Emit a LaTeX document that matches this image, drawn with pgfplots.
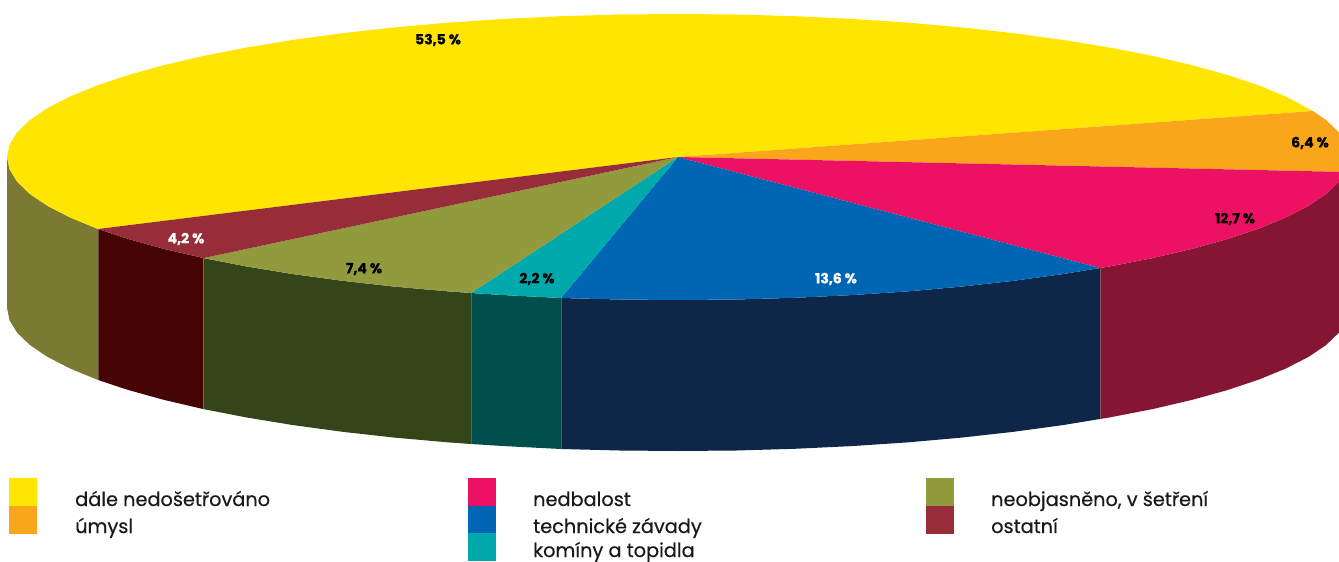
\documentclass[border=0pt]{standalone}
\usepackage{fontspec}
\setmainfont{Poppins}
\newfontfamily\legfont[FakeBold=0.5]{Poppins}
\newfontfamily\lblfont[FakeBold=0.8]{Poppins}
\usepackage{pgfplots}
\pgfplotsset{compat=1.18}

\definecolor{cyellow}{HTML}{FFE500}
\definecolor{corange}{HTML}{FAA61A}
\definecolor{cpink}{HTML}{ED1164}
\definecolor{cblue}{HTML}{0066B3}
\definecolor{cteal}{HTML}{00A9AC}
\definecolor{colive}{HTML}{919A3D}
\definecolor{cred}{HTML}{962D38}
\definecolor{wyellow}{HTML}{7A7A32}
\definecolor{wpink}{HTML}{841633}
\definecolor{wblue}{HTML}{0E2648}
\definecolor{wteal}{HTML}{004F4C}
\definecolor{wolive}{HTML}{344519}
\definecolor{wred}{HTML}{470404}

\newcommand{\lbl}{\fontsize{14}{14}\lblfont\bfseries}
\newcommand{\leg}{\fontsize{19.3}{19.3}\legfont}

\begin{document}
\begin{tikzpicture}
\useasboundingbox (0,0) rectangle (1339pt,562pt);
\begin{axis}[
    at={(0,0)}, anchor=south west,
    scale only axis,
    width=1339pt, height=562pt,
    xmin=0, xmax=1339,
    ymin=0, ymax=562,
    y dir=reverse,
    hide axis,
]
% side walls
\addplot[fill=wyellow, draw=none] coordinates {(98,229)(69.9,217.4)(47.5,205.9)(29.9,194)(17.2,181.8)(9.6,169.5)(7,157)(7,308)(9.6,320.5)(17.2,332.8)(29.9,345)(47.5,356.9)(69.9,368.4)(98,380)} --cycle;
\addplot[fill=wred, draw=none] coordinates {(203.5,258.1)(164,248.9)(128.3,239)(98,229)(98,380)(128.3,390)(164,399.9)(203.5,409.1)} --cycle;
\addplot[fill=wolive, draw=none] coordinates {(471,293)(448.5,291.4)(394.4,286.6)(342.5,280.8)(293.1,274.1)(246.7,266.5)(203.5,258.1)(203.5,409.1)(246.7,417.5)(293.1,425.1)(342.5,431.8)(394.4,437.6)(448.5,442.4)(471,444)} --cycle;
\addplot[fill=wteal, draw=none] coordinates {(561,298)(504.3,295.1)(471,293)(471,444)(504.3,446.1)(561,449)} --cycle;
\addplot[fill=wblue, draw=none] coordinates {(1100,268)(1062.9,274.1)(1013.5,280.8)(961.6,286.6)(907.5,291.4)(851.7,295.1)(794.5,297.8)(736.5,299.5)(678,300)(619.5,299.5)(561,298)(561,449)(619.5,450.5)(678,451)(736.5,450.5)(794.5,448.8)(851.7,446.1)(907.5,442.4)(961.6,437.6)(1013.5,431.8)(1062.9,425.1)(1100,419)} --cycle;
\addplot[fill=wpink, draw=none] coordinates {(1346.4,169.5)(1338.8,181.8)(1326.1,194)(1308.5,205.9)(1286.1,217.4)(1259.1,228.5)(1227.7,239)(1192,248.9)(1152.5,258.1)(1109.3,266.5)(1100,268)(1100,419)(1109.3,417.5)(1152.5,409.1)(1192,399.9)(1227.7,390)(1259.1,379.5)(1286.1,368.4)(1308.5,356.9)(1326.1,345)(1338.8,332.8)(1346.4,320.5)} --cycle;
% pale seams between the walls
\addplot[gray, opacity=0.6, line width=0.4pt] coordinates {(98,229)(98,380)};
\addplot[gray, opacity=0.6, line width=0.4pt] coordinates {(203.5,258.1)(203.5,409.1)};
\addplot[gray, opacity=0.6, line width=0.4pt] coordinates {(471,293)(471,444)};
\addplot[gray, opacity=0.6, line width=0.4pt] coordinates {(561,298)(561,449)};
\addplot[gray, opacity=0.6, line width=0.4pt] coordinates {(1100,268)(1100,419)};
% top face
\addplot[fill=cyellow, draw=none] coordinates {(678,157)(98,229)(69.9,217.4)(47.5,205.9)(29.9,194)(17.2,181.8)(9.6,169.5)(7,157)(9.6,144.5)(17.2,132.2)(29.9,120)(47.5,108.1)(69.9,96.6)(96.9,85.5)(128.3,75)(164,65.1)(203.5,55.9)(246.7,47.5)(293.1,39.9)(342.5,33.2)(394.4,27.4)(448.5,22.6)(504.3,18.9)(561.5,16.2)(619.5,14.5)(678,14)(736.5,14.5)(794.5,16.2)(851.7,18.9)(907.5,22.6)(961.6,27.4)(1013.5,33.2)(1062.9,39.9)(1109.3,47.5)(1152.5,55.9)(1192,65.1)(1227.7,75)(1259.1,85.5)(1286.1,96.6)(1313,111)} --cycle;
\addplot[fill=corange, draw=none] coordinates {(678,157)(1313,111)(1326.1,120)(1338.8,132.2)(1346.4,144.5)(1349,157)(1345.5,172)} --cycle;
\addplot[fill=cpink, draw=none] coordinates {(678,157)(1345.5,172)(1338.8,181.8)(1326.1,194)(1308.5,205.9)(1286.1,217.4)(1259.1,228.5)(1227.7,239)(1192,248.9)(1152.5,258.1)(1109.3,266.5)(1100,268)} --cycle;
\addplot[fill=cblue, draw=none] coordinates {(678,157)(1100,268)(1062.9,274.1)(1013.5,280.8)(961.6,286.6)(907.5,291.4)(851.7,295.1)(794.5,297.8)(736.5,299.5)(678,300)(619.5,299.5)(561,298)} --cycle;
\addplot[fill=cteal, draw=none] coordinates {(678,157)(561,298)(504.3,295.1)(471,293)} --cycle;
\addplot[fill=colive, draw=none] coordinates {(678,157)(471,293)(448.5,291.4)(394.4,286.6)(342.5,280.8)(293.1,274.1)(246.7,266.5)(203.5,258.1)} --cycle;
\addplot[fill=cred, draw=none] coordinates {(678,157)(203.5,258.1)(164,248.9)(128.3,239)(98,229)} --cycle;
% legend swatches
\addplot[fill=cyellow, draw=none] coordinates {(9,478)(37,478)(37,506)(9,506)} --cycle;
\addplot[fill=corange, draw=none] coordinates {(9,506)(37,506)(37,534)(9,534)} --cycle;
\addplot[fill=cpink, draw=none] coordinates {(468,478)(496,478)(496,506)(468,506)} --cycle;
\addplot[fill=cblue, draw=none] coordinates {(468,506)(496,506)(496,533)(468,533)} --cycle;
\addplot[fill=cteal, draw=none] coordinates {(468,533)(496,533)(496,561)(468,561)} --cycle;
\addplot[fill=colive, draw=none] coordinates {(926,478)(954,478)(954,506)(926,506)} --cycle;
\addplot[fill=cred, draw=none] coordinates {(926,506)(954,506)(954,534)(926,534)} --cycle;
% value labels
\node[font=\lbl, text=black] at (axis cs:438,40) {53,5 \%};
\node[font=\lbl, text=black] at (axis cs:1310,143) {6,4 \%};
\node[font=\lbl, text=black] at (axis cs:1235,219) {12,7 \%};
\node[font=\lbl, text=white] at (axis cs:836,279) {13,6 \%};
\node[font=\lbl, text=black] at (axis cs:537,279) {2,2 \%};
\node[font=\lbl, text=black] at (axis cs:364,269) {7,4 \%};
\node[font=\lbl, text=white] at (axis cs:186,239) {4,2 \%};
% legend text
\node[font=\leg, anchor=base west, inner sep=0pt, text=black!90] at (axis cs:75,506) {dále nedošetřováno};
\node[font=\leg, anchor=base west, inner sep=0pt, text=black!90] at (axis cs:75,533) {úmysl};
\node[font=\leg, anchor=base west, inner sep=0pt, text=black!90] at (axis cs:533,506) {nedbalost};
\node[font=\leg, anchor=base west, inner sep=0pt, text=black!90] at (axis cs:533,533) {technické závady};
\node[font=\leg, anchor=base west, inner sep=0pt, text=black!90] at (axis cs:533,557) {komíny a topidla};
\node[font=\leg, anchor=base west, inner sep=0pt, text=black!90] at (axis cs:991,506) {neobjasněno, v šetření};
\node[font=\leg, anchor=base west, inner sep=0pt, text=black!90] at (axis cs:991,533) {ostatní};
\end{axis}
\end{tikzpicture}
\end{document}
